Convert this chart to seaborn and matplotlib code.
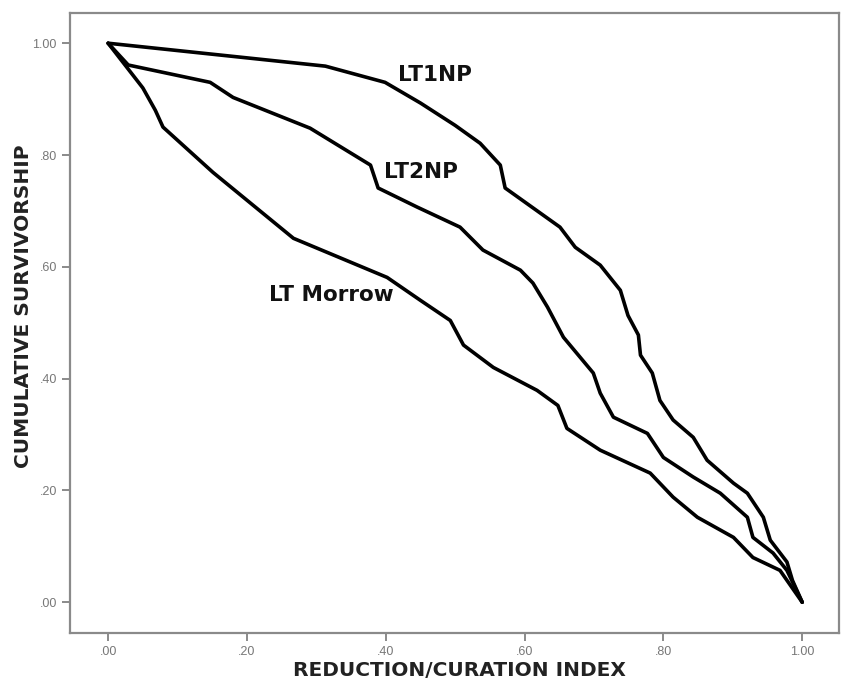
import numpy as np
import pandas as pd
import seaborn as sns
import matplotlib.pyplot as plt
from matplotlib.ticker import FuncFormatter

# --- data ---
lt1np_x = [0.000, 0.313, 0.399, 0.450, 0.500, 0.536, 0.565, 0.572, 0.651, 0.673,
           0.709, 0.738, 0.749, 0.764, 0.767, 0.784, 0.795, 0.814, 0.843, 0.863,
           0.901, 0.921, 0.944, 0.954, 0.978, 0.986, 1.000]
lt1np_y = [1.000, 0.959, 0.930, 0.893, 0.853, 0.821, 0.782, 0.741, 0.671, 0.635,
           0.603, 0.558, 0.513, 0.478, 0.442, 0.410, 0.361, 0.326, 0.295, 0.254,
           0.213, 0.195, 0.152, 0.111, 0.072, 0.039, 0.000]

lt2np_x = [0.000, 0.029, 0.147, 0.180, 0.291, 0.378, 0.389, 0.445, 0.507, 0.540,
           0.594, 0.612, 0.633, 0.656, 0.699, 0.709, 0.728, 0.777, 0.800, 0.843,
           0.882, 0.921, 0.929, 0.958, 0.978, 1.000]
lt2np_y = [1.000, 0.961, 0.930, 0.903, 0.848, 0.782, 0.741, 0.707, 0.671, 0.630,
           0.594, 0.571, 0.528, 0.474, 0.410, 0.374, 0.331, 0.302, 0.259, 0.224,
           0.195, 0.152, 0.116, 0.088, 0.057, 0.000]

morrow_x = [0.000, 0.050, 0.068, 0.079, 0.151, 0.267, 0.402, 0.450, 0.493, 0.512,
            0.555, 0.618, 0.648, 0.661, 0.709, 0.781, 0.814, 0.849, 0.901, 0.929,
            0.968, 1.000]
morrow_y = [1.000, 0.920, 0.880, 0.850, 0.769, 0.651, 0.581, 0.540, 0.504, 0.460,
            0.420, 0.379, 0.352, 0.311, 0.272, 0.231, 0.188, 0.152, 0.116, 0.080,
            0.057, 0.000]

series_names = ["LT1NP", "LT2NP", "LT Morrow"]
label_pos = {"LT1NP": (0.471, 0.943), "LT2NP": (0.451, 0.769), "LT Morrow": (0.321, 0.549)}
ticks = [0.0, 0.2, 0.4, 0.6, 0.8, 1.0]

df = pd.concat([
    pd.DataFrame({"x": lt1np_x, "y": lt1np_y, "series": "LT1NP"}),
    pd.DataFrame({"x": lt2np_x, "y": lt2np_y, "series": "LT2NP"}),
    pd.DataFrame({"x": morrow_x, "y": morrow_y, "series": "LT Morrow"}),
], ignore_index=True)

sns.set_style("white")
plt.rcParams['font.family'] = ['DejaVu Sans']

fig = plt.figure(figsize=(8.41, 6.86), dpi=100)
ax = fig.add_axes([0.0832, 0.0773, 0.9144, 0.9037])

sns.lineplot(data=df, x="x", y="y", hue="series", hue_order=series_names,
             palette=["black"] * 3, estimator=None, sort=False,
             linewidth=2.6, legend=False, ax=ax)

for name in series_names:
    lx, ly = label_pos[name]
    ax.text(lx, ly, name, ha="center", va="center", fontsize=15.5,
            fontweight="bold", color="#111111")

ax.set_xlim(-0.055, 1.053)
ax.set_ylim(-0.055, 1.054)
ax.set_xticks(ticks)
ax.set_yticks(ticks)
fmt = FuncFormatter(lambda v, p: f"{v:.2f}".lstrip("0") if v < 1 else f"{v:.2f}")
ax.xaxis.set_major_formatter(fmt)
ax.yaxis.set_major_formatter(fmt)
ax.tick_params(axis="both", direction="out", length=6, width=1.2,
               color="#777777", labelcolor="#777777", labelsize=9,
               bottom=True, left=True)
for lab in ax.get_xticklabels() + ax.get_yticklabels():
    lab.set_family("Liberation Sans")

for sp in ax.spines.values():
    sp.set_color("#8a8a8a")
    sp.set_linewidth(1.6)
    sp.set_visible(True)

ax.set_xlabel("REDUCTION/CURATION INDEX", fontsize=14.5, fontweight="bold",
              color="#222222")
ax.set_ylabel("CUMULATIVE SURVIVORSHIP", fontsize=14.5, fontweight="bold",
              color="#222222")
ax.xaxis.set_label_coords(0.507, -0.046)
ax.yaxis.set_label_coords(-0.048, 0.527)

plt.savefig("out.png", dpi=100)
